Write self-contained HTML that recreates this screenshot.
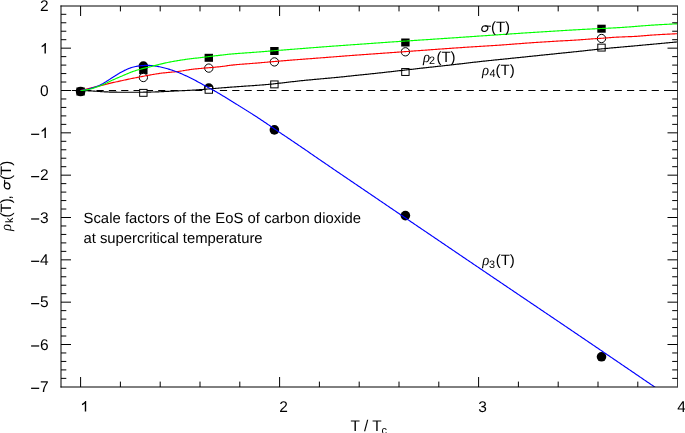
<!DOCTYPE html><html><head><meta charset="utf-8"><style>html,body{margin:0;padding:0;background:#fff}svg{display:block;text-rendering:geometricPrecision;will-change:transform}.s{font-family:"Liberation Sans",sans-serif}.g{font-family:"Liberation Serif",serif;font-style:italic}</style></head><body>
<svg width="685" height="433" viewBox="0 0 685 433">
<rect width="685" height="433" fill="#fff"/>
<defs><clipPath id="c"><rect x="61.0" y="6.0" width="616.5" height="381.0"/></clipPath></defs>
<line x1="61.0" y1="90.5" x2="677.5" y2="90.5" stroke="#000" stroke-width="1.1" stroke-dasharray="7.2 5.137" stroke-dashoffset="1.51"/>
<circle cx="80.60" cy="91.50" r="4.8" fill="#000"/>
<circle cx="143.35" cy="66.10" r="4.8" fill="#000"/>
<circle cx="208.80" cy="88.10" r="4.8" fill="#000"/>
<circle cx="274.40" cy="129.90" r="4.8" fill="#000"/>
<circle cx="405.40" cy="215.60" r="4.8" fill="#000"/>
<circle cx="601.50" cy="356.80" r="4.8" fill="#000"/>
<rect x="76.40" y="87.50" width="8.4" height="8.0" fill="#000"/>
<rect x="139.15" y="66.20" width="8.4" height="8.0" fill="#000"/>
<rect x="204.60" y="53.80" width="8.4" height="8.0" fill="#000"/>
<rect x="270.20" y="47.00" width="8.4" height="8.0" fill="#000"/>
<rect x="401.20" y="38.50" width="8.4" height="8.0" fill="#000"/>
<rect x="597.30" y="24.70" width="8.4" height="8.0" fill="#000"/>
<circle cx="143.35" cy="77.50" r="4.15" fill="#fff" stroke="#000" stroke-width="1"/>
<circle cx="208.80" cy="68.10" r="4.15" fill="#fff" stroke="#000" stroke-width="1"/>
<circle cx="274.40" cy="61.90" r="4.15" fill="#fff" stroke="#000" stroke-width="1"/>
<circle cx="405.40" cy="51.80" r="4.15" fill="#fff" stroke="#000" stroke-width="1"/>
<circle cx="601.50" cy="38.50" r="4.15" fill="#fff" stroke="#000" stroke-width="1"/>
<rect x="139.65" y="89.40" width="7.4" height="6.9" fill="#fff" stroke="#000" stroke-width="1"/>
<rect x="205.10" y="86.35" width="7.4" height="6.9" fill="#fff" stroke="#000" stroke-width="1"/>
<rect x="270.70" y="80.95" width="7.4" height="6.9" fill="#fff" stroke="#000" stroke-width="1"/>
<rect x="401.70" y="68.55" width="7.4" height="6.9" fill="#fff" stroke="#000" stroke-width="1"/>
<rect x="597.80" y="44.15" width="7.4" height="6.9" fill="#fff" stroke="#000" stroke-width="1"/>
<g clip-path="url(#c)" fill="none" stroke-width="1.15" stroke-linejoin="round">
<path d="M80.60 90.45 L81.60 90.50 L82.60 90.54 L83.60 90.59 L84.60 90.64 L85.60 90.69 L86.60 90.74 L87.60 90.79 L88.60 90.84 L89.60 90.89 L90.60 90.94 L91.60 91.00 L92.60 91.05 L93.60 91.11 L94.60 91.17 L95.60 91.22 L96.60 91.29 L97.60 91.35 L98.60 91.41 L99.60 91.48 L100.60 91.56 L101.60 91.64 L102.60 91.71 L103.60 91.77 L104.60 91.81 L105.60 91.86 L106.60 91.90 L107.60 91.93 L108.60 92.00 L109.60 92.08 L110.60 92.10 L111.60 92.11 L112.60 92.13 L113.60 92.15 L114.60 92.16 L115.60 92.18 L116.60 92.19 L117.60 92.20 L118.60 92.21 L119.60 92.23 L120.60 92.23 L121.60 92.23 L122.60 92.24 L123.60 92.24 L124.60 92.25 L125.60 92.25 L126.60 92.25 L127.60 92.25 L128.60 92.25 L129.60 92.25 L130.60 92.25 L131.60 92.24 L132.60 92.24 L133.60 92.24 L134.60 92.24 L135.60 92.24 L136.60 92.24 L137.60 92.24 L138.60 92.24 L139.60 92.24 L140.60 92.23 L141.60 92.22 L142.60 92.20 L143.60 92.19 L144.60 92.17 L145.60 92.16 L146.60 92.15 L147.60 92.13 L148.60 92.11 L149.60 92.09 L150.60 92.06 L151.60 92.04 L152.60 92.01 L153.60 91.98 L154.60 91.96 L155.60 91.93 L156.60 91.90 L157.60 91.85 L158.60 91.82 L159.60 91.77 L160.60 91.73 L161.60 91.67 L162.60 91.62 L163.60 91.57 L164.60 91.52 L165.60 91.47 L166.60 91.42 L167.60 91.37 L168.60 91.31 L169.60 91.26 L170.60 91.21 L171.60 91.16 L172.60 91.12 L173.60 91.07 L174.60 91.03 L175.60 90.98 L176.60 90.94 L177.60 90.89 L178.60 90.85 L179.60 90.80 L180.60 90.76 L181.60 90.71 L182.60 90.67 L183.60 90.62 L184.60 90.57 L185.60 90.53 L186.60 90.48 L187.60 90.44 L188.60 90.39 L189.60 90.34 L190.60 90.29 L191.60 90.23 L192.60 90.17 L193.60 90.12 L194.60 90.06 L195.60 89.99 L196.60 89.92 L197.60 89.84 L198.60 89.76 L199.60 89.68 L200.60 89.61 L201.60 89.54 L202.60 89.46 L203.60 89.37 L204.60 89.28 L205.60 89.20 L206.60 89.12 L207.60 89.03 L208.60 88.95 L209.60 88.86 L210.60 88.78 L211.60 88.70 L212.60 88.63 L213.60 88.55 L214.60 88.47 L215.60 88.38 L216.60 88.29 L217.60 88.21 L218.60 88.13 L219.60 88.05 L220.60 87.96 L221.60 87.88 L222.60 87.80 L223.60 87.72 L224.60 87.64 L225.60 87.56 L226.60 87.48 L227.60 87.40 L228.60 87.32 L229.60 87.24 L230.60 87.17 L231.60 87.09 L232.60 87.02 L233.60 86.95 L234.60 86.88 L235.60 86.81 L236.60 86.74 L237.60 86.67 L238.60 86.60 L239.60 86.53 L240.60 86.47 L241.60 86.40 L242.60 86.33 L243.60 86.26 L244.60 86.19 L245.60 86.11 L246.60 86.05 L247.60 85.98 L248.60 85.91 L249.60 85.85 L250.60 85.78 L251.60 85.71 L252.60 85.63 L253.60 85.56 L254.60 85.49 L255.60 85.42 L256.60 85.35 L257.60 85.27 L258.60 85.20 L259.60 85.12 L260.60 85.05 L261.60 84.97 L262.60 84.89 L263.60 84.81 L264.60 84.72 L265.60 84.63 L266.60 84.54 L267.60 84.45 L268.60 84.36 L269.60 84.27 L270.60 84.17 L271.60 84.07 L272.60 83.96 L273.60 83.85 L274.60 83.74 L275.60 83.63 L276.60 83.52 L277.60 83.41 L278.60 83.29 L279.60 83.18 L280.60 83.07 L281.60 82.95 L282.60 82.83 L283.60 82.72 L284.60 82.60 L285.60 82.48 L286.60 82.36 L287.60 82.25 L288.60 82.13 L289.60 82.01 L290.60 81.89 L291.60 81.78 L292.60 81.67 L293.60 81.56 L294.60 81.45 L295.60 81.34 L296.60 81.23 L297.60 81.13 L298.60 81.02 L299.60 80.91 L300.60 80.80 L301.60 80.69 L302.60 80.58 L303.60 80.48 L304.60 80.39 L305.60 80.29 L306.60 80.19 L307.60 80.10 L308.60 80.00 L309.60 79.90 L310.60 79.81 L311.60 79.72 L312.60 79.62 L313.60 79.53 L314.60 79.44 L315.60 79.35 L316.60 79.26 L317.60 79.17 L318.60 79.08 L319.60 78.99 L320.60 78.90 L321.60 78.80 L322.60 78.71 L323.60 78.62 L324.60 78.52 L325.60 78.44 L326.60 78.35 L327.60 78.26 L328.60 78.18 L329.60 78.09 L330.60 77.99 L331.60 77.90 L332.60 77.80 L333.60 77.70 L334.60 77.61 L335.60 77.52 L336.60 77.43 L337.60 77.33 L338.60 77.23 L339.60 77.12 L340.60 77.02 L341.60 76.91 L342.60 76.81 L343.60 76.71 L344.60 76.60 L345.60 76.49 L346.60 76.39 L347.60 76.29 L348.60 76.19 L349.60 76.08 L350.60 75.98 L351.60 75.87 L352.60 75.76 L353.60 75.65 L354.60 75.55 L355.60 75.44 L356.60 75.34 L357.60 75.24 L358.60 75.14 L359.60 75.04 L360.60 74.93 L361.60 74.82 L362.60 74.71 L363.60 74.61 L364.60 74.51 L365.60 74.41 L366.60 74.31 L367.60 74.21 L368.60 74.11 L369.60 74.00 L370.60 73.90 L371.60 73.79 L372.60 73.68 L373.60 73.58 L374.60 73.47 L375.60 73.36 L376.60 73.25 L377.60 73.14 L378.60 73.03 L379.60 72.92 L380.60 72.81 L381.60 72.70 L382.60 72.59 L383.60 72.48 L384.60 72.37 L385.60 72.26 L386.60 72.16 L387.60 72.05 L388.60 71.94 L389.60 71.83 L390.60 71.71 L391.60 71.60 L392.60 71.48 L393.60 71.37 L394.60 71.25 L395.60 71.14 L396.60 71.02 L397.60 70.91 L398.60 70.80 L399.60 70.69 L400.60 70.58 L401.60 70.46 L402.60 70.35 L403.60 70.23 L404.60 70.12 L405.60 70.00 L406.60 69.89 L407.60 69.77 L408.60 69.65 L409.60 69.54 L410.60 69.43 L411.60 69.31 L412.60 69.20 L413.60 69.09 L414.60 68.98 L415.60 68.87 L416.60 68.75 L417.60 68.64 L418.60 68.52 L419.60 68.41 L420.60 68.29 L421.60 68.17 L422.60 68.06 L423.60 67.94 L424.60 67.83 L425.60 67.73 L426.60 67.62 L427.60 67.52 L428.60 67.41 L429.60 67.30 L430.60 67.19 L431.60 67.08 L432.60 66.97 L433.60 66.86 L434.60 66.74 L435.60 66.63 L436.60 66.52 L437.60 66.41 L438.60 66.30 L439.60 66.18 L440.60 66.07 L441.60 65.96 L442.60 65.85 L443.60 65.75 L444.60 65.64 L445.60 65.53 L446.60 65.43 L447.60 65.32 L448.60 65.22 L449.60 65.10 L450.60 64.98 L451.60 64.87 L452.60 64.75 L453.60 64.63 L454.60 64.52 L455.60 64.40 L456.60 64.28 L457.60 64.17 L458.60 64.06 L459.60 63.94 L460.60 63.83 L461.60 63.71 L462.60 63.59 L463.60 63.47 L464.60 63.35 L465.60 63.23 L466.60 63.11 L467.60 62.99 L468.60 62.87 L469.60 62.76 L470.60 62.64 L471.60 62.53 L472.60 62.41 L473.60 62.30 L474.60 62.19 L475.60 62.08 L476.60 61.96 L477.60 61.85 L478.60 61.73 L479.60 61.62 L480.60 61.51 L481.60 61.40 L482.60 61.28 L483.60 61.17 L484.60 61.07 L485.60 60.96 L486.60 60.86 L487.60 60.76 L488.60 60.65 L489.60 60.55 L490.60 60.45 L491.60 60.34 L492.60 60.24 L493.60 60.13 L494.60 60.03 L495.60 59.92 L496.60 59.82 L497.60 59.72 L498.60 59.61 L499.60 59.51 L500.60 59.41 L501.60 59.31 L502.60 59.20 L503.60 59.10 L504.60 59.00 L505.60 58.90 L506.60 58.81 L507.60 58.71 L508.60 58.62 L509.60 58.51 L510.60 58.40 L511.60 58.30 L512.60 58.19 L513.60 58.09 L514.60 57.98 L515.60 57.87 L516.60 57.77 L517.60 57.67 L518.60 57.57 L519.60 57.47 L520.60 57.37 L521.60 57.26 L522.60 57.16 L523.60 57.06 L524.60 56.95 L525.60 56.85 L526.60 56.74 L527.60 56.63 L528.60 56.53 L529.60 56.43 L530.60 56.32 L531.60 56.22 L532.60 56.12 L533.60 56.02 L534.60 55.92 L535.60 55.81 L536.60 55.71 L537.60 55.60 L538.60 55.50 L539.60 55.39 L540.60 55.29 L541.60 55.18 L542.60 55.08 L543.60 54.97 L544.60 54.87 L545.60 54.77 L546.60 54.67 L547.60 54.57 L548.60 54.47 L549.60 54.37 L550.60 54.27 L551.60 54.16 L552.60 54.06 L553.60 53.96 L554.60 53.85 L555.60 53.75 L556.60 53.65 L557.60 53.54 L558.60 53.44 L559.60 53.34 L560.60 53.23 L561.60 53.13 L562.60 53.03 L563.60 52.93 L564.60 52.83 L565.60 52.73 L566.60 52.63 L567.60 52.53 L568.60 52.43 L569.60 52.33 L570.60 52.22 L571.60 52.12 L572.60 52.01 L573.60 51.90 L574.60 51.80 L575.60 51.70 L576.60 51.59 L577.60 51.49 L578.60 51.39 L579.60 51.28 L580.60 51.17 L581.60 51.07 L582.60 50.96 L583.60 50.84 L584.60 50.73 L585.60 50.62 L586.60 50.50 L587.60 50.39 L588.60 50.28 L589.60 50.17 L590.60 50.07 L591.60 49.96 L592.60 49.85 L593.60 49.74 L594.60 49.63 L595.60 49.52 L596.60 49.42 L597.60 49.31 L598.60 49.20 L599.60 49.09 L600.60 48.99 L601.60 48.89 L602.60 48.79 L603.60 48.70 L604.60 48.60 L605.60 48.51 L606.60 48.41 L607.60 48.32 L608.60 48.23 L609.60 48.14 L610.60 48.04 L611.60 47.94 L612.60 47.85 L613.60 47.75 L614.60 47.67 L615.60 47.58 L616.60 47.49 L617.60 47.40 L618.60 47.31 L619.60 47.22 L620.60 47.13 L621.60 47.04 L622.60 46.95 L623.60 46.86 L624.60 46.77 L625.60 46.68 L626.60 46.60 L627.60 46.51 L628.60 46.42 L629.60 46.33 L630.60 46.24 L631.60 46.15 L632.60 46.06 L633.60 45.97 L634.60 45.88 L635.60 45.79 L636.60 45.70 L637.60 45.61 L638.60 45.51 L639.60 45.42 L640.60 45.33 L641.60 45.24 L642.60 45.15 L643.60 45.05 L644.60 44.96 L645.60 44.87 L646.60 44.78 L647.60 44.69 L648.60 44.59 L649.60 44.50 L650.60 44.41 L651.60 44.32 L652.60 44.22 L653.60 44.13 L654.60 44.04 L655.60 43.95 L656.60 43.85 L657.60 43.76 L658.60 43.67 L659.60 43.57 L660.60 43.48 L661.60 43.39 L662.60 43.29 L663.60 43.20 L664.60 43.10 L665.60 43.01 L666.60 42.92 L667.60 42.82 L668.60 42.73 L669.60 42.63 L670.60 42.54 L671.60 42.45 L672.60 42.35 L673.60 42.26 L674.60 42.16 L675.60 42.07 L676.60 41.97 L677.50 41.89" stroke="#000000"/>
<path d="M80.60 90.51 L81.60 90.27 L82.60 90.02 L83.60 89.78 L84.60 89.54 L85.60 89.30 L86.60 89.05 L87.60 88.81 L88.60 88.56 L89.60 88.32 L90.60 88.07 L91.60 87.83 L92.60 87.58 L93.60 87.33 L94.60 87.08 L95.60 86.85 L96.60 86.62 L97.60 86.36 L98.60 86.13 L99.60 85.90 L100.60 85.66 L101.60 85.43 L102.60 85.21 L103.60 84.95 L104.60 84.68 L105.60 84.45 L106.60 84.19 L107.60 83.93 L108.60 83.67 L109.60 83.41 L110.60 83.15 L111.60 82.88 L112.60 82.63 L113.60 82.41 L114.60 82.19 L115.60 81.96 L116.60 81.76 L117.60 81.57 L118.60 81.35 L119.60 81.13 L120.60 80.93 L121.60 80.71 L122.60 80.49 L123.60 80.27 L124.60 80.04 L125.60 79.82 L126.60 79.60 L127.60 79.38 L128.60 79.16 L129.60 78.94 L130.60 78.73 L131.60 78.54 L132.60 78.35 L133.60 78.16 L134.60 77.97 L135.60 77.78 L136.60 77.58 L137.60 77.38 L138.60 77.20 L139.60 77.00 L140.60 76.80 L141.60 76.59 L142.60 76.40 L143.60 76.20 L144.60 76.01 L145.60 75.81 L146.60 75.62 L147.60 75.43 L148.60 75.26 L149.60 75.08 L150.60 74.89 L151.60 74.71 L152.60 74.55 L153.60 74.39 L154.60 74.22 L155.60 74.05 L156.60 73.90 L157.60 73.75 L158.60 73.58 L159.60 73.43 L160.60 73.29 L161.60 73.17 L162.60 73.04 L163.60 72.93 L164.60 72.83 L165.60 72.72 L166.60 72.63 L167.60 72.52 L168.60 72.41 L169.60 72.32 L170.60 72.23 L171.60 72.14 L172.60 72.05 L173.60 71.97 L174.60 71.85 L175.60 71.72 L176.60 71.64 L177.60 71.54 L178.60 71.42 L179.60 71.26 L180.60 71.09 L181.60 70.95 L182.60 70.80 L183.60 70.62 L184.60 70.46 L185.60 70.30 L186.60 70.13 L187.60 69.95 L188.60 69.81 L189.60 69.67 L190.60 69.53 L191.60 69.39 L192.60 69.26 L193.60 69.14 L194.60 69.03 L195.60 68.93 L196.60 68.82 L197.60 68.72 L198.60 68.63 L199.60 68.55 L200.60 68.45 L201.60 68.36 L202.60 68.28 L203.60 68.19 L204.60 68.10 L205.60 68.02 L206.60 67.93 L207.60 67.85 L208.60 67.77 L209.60 67.68 L210.60 67.60 L211.60 67.51 L212.60 67.42 L213.60 67.33 L214.60 67.24 L215.60 67.14 L216.60 67.04 L217.60 66.93 L218.60 66.82 L219.60 66.71 L220.60 66.60 L221.60 66.48 L222.60 66.35 L223.60 66.22 L224.60 66.10 L225.60 65.95 L226.60 65.82 L227.60 65.69 L228.60 65.55 L229.60 65.41 L230.60 65.29 L231.60 65.18 L232.60 65.07 L233.60 64.94 L234.60 64.82 L235.60 64.73 L236.60 64.64 L237.60 64.55 L238.60 64.47 L239.60 64.39 L240.60 64.29 L241.60 64.21 L242.60 64.14 L243.60 64.07 L244.60 63.99 L245.60 63.91 L246.60 63.84 L247.60 63.77 L248.60 63.71 L249.60 63.62 L250.60 63.54 L251.60 63.45 L252.60 63.37 L253.60 63.30 L254.60 63.23 L255.60 63.16 L256.60 63.07 L257.60 62.98 L258.60 62.89 L259.60 62.81 L260.60 62.72 L261.60 62.64 L262.60 62.55 L263.60 62.46 L264.60 62.38 L265.60 62.29 L266.60 62.21 L267.60 62.12 L268.60 62.02 L269.60 61.92 L270.60 61.83 L271.60 61.75 L272.60 61.66 L273.60 61.58 L274.60 61.49 L275.60 61.40 L276.60 61.32 L277.60 61.23 L278.60 61.15 L279.60 61.06 L280.60 60.97 L281.60 60.89 L282.60 60.81 L283.60 60.73 L284.60 60.65 L285.60 60.56 L286.60 60.48 L287.60 60.40 L288.60 60.32 L289.60 60.24 L290.60 60.16 L291.60 60.09 L292.60 60.01 L293.60 59.93 L294.60 59.86 L295.60 59.78 L296.60 59.70 L297.60 59.63 L298.60 59.55 L299.60 59.48 L300.60 59.40 L301.60 59.32 L302.60 59.25 L303.60 59.17 L304.60 59.09 L305.60 59.02 L306.60 58.94 L307.60 58.86 L308.60 58.79 L309.60 58.71 L310.60 58.63 L311.60 58.56 L312.60 58.48 L313.60 58.40 L314.60 58.33 L315.60 58.25 L316.60 58.18 L317.60 58.11 L318.60 58.03 L319.60 57.95 L320.60 57.87 L321.60 57.80 L322.60 57.72 L323.60 57.64 L324.60 57.56 L325.60 57.48 L326.60 57.41 L327.60 57.33 L328.60 57.26 L329.60 57.18 L330.60 57.11 L331.60 57.03 L332.60 56.95 L333.60 56.87 L334.60 56.79 L335.60 56.71 L336.60 56.63 L337.60 56.55 L338.60 56.47 L339.60 56.40 L340.60 56.32 L341.60 56.24 L342.60 56.16 L343.60 56.08 L344.60 56.00 L345.60 55.93 L346.60 55.85 L347.60 55.78 L348.60 55.70 L349.60 55.62 L350.60 55.55 L351.60 55.48 L352.60 55.40 L353.60 55.32 L354.60 55.25 L355.60 55.17 L356.60 55.10 L357.60 55.02 L358.60 54.95 L359.60 54.88 L360.60 54.81 L361.60 54.74 L362.60 54.66 L363.60 54.59 L364.60 54.52 L365.60 54.45 L366.60 54.38 L367.60 54.31 L368.60 54.24 L369.60 54.17 L370.60 54.10 L371.60 54.03 L372.60 53.96 L373.60 53.89 L374.60 53.81 L375.60 53.74 L376.60 53.67 L377.60 53.60 L378.60 53.53 L379.60 53.46 L380.60 53.39 L381.60 53.32 L382.60 53.25 L383.60 53.18 L384.60 53.11 L385.60 53.04 L386.60 52.97 L387.60 52.90 L388.60 52.83 L389.60 52.75 L390.60 52.68 L391.60 52.61 L392.60 52.53 L393.60 52.46 L394.60 52.39 L395.60 52.32 L396.60 52.24 L397.60 52.17 L398.60 52.10 L399.60 52.03 L400.60 51.96 L401.60 51.88 L402.60 51.81 L403.60 51.74 L404.60 51.67 L405.60 51.59 L406.60 51.52 L407.60 51.45 L408.60 51.38 L409.60 51.30 L410.60 51.23 L411.60 51.16 L412.60 51.09 L413.60 51.01 L414.60 50.94 L415.60 50.87 L416.60 50.79 L417.60 50.72 L418.60 50.65 L419.60 50.57 L420.60 50.50 L421.60 50.43 L422.60 50.35 L423.60 50.28 L424.60 50.21 L425.60 50.13 L426.60 50.06 L427.60 49.98 L428.60 49.91 L429.60 49.84 L430.60 49.76 L431.60 49.69 L432.60 49.62 L433.60 49.54 L434.60 49.47 L435.60 49.40 L436.60 49.33 L437.60 49.25 L438.60 49.18 L439.60 49.11 L440.60 49.03 L441.60 48.96 L442.60 48.89 L443.60 48.82 L444.60 48.75 L445.60 48.68 L446.60 48.61 L447.60 48.54 L448.60 48.47 L449.60 48.40 L450.60 48.33 L451.60 48.26 L452.60 48.19 L453.60 48.12 L454.60 48.05 L455.60 47.98 L456.60 47.91 L457.60 47.84 L458.60 47.77 L459.60 47.70 L460.60 47.63 L461.60 47.57 L462.60 47.50 L463.60 47.44 L464.60 47.37 L465.60 47.30 L466.60 47.23 L467.60 47.17 L468.60 47.11 L469.60 47.04 L470.60 46.97 L471.60 46.91 L472.60 46.84 L473.60 46.78 L474.60 46.71 L475.60 46.65 L476.60 46.59 L477.60 46.53 L478.60 46.47 L479.60 46.41 L480.60 46.35 L481.60 46.28 L482.60 46.22 L483.60 46.16 L484.60 46.09 L485.60 46.03 L486.60 45.97 L487.60 45.91 L488.60 45.84 L489.60 45.78 L490.60 45.72 L491.60 45.65 L492.60 45.59 L493.60 45.53 L494.60 45.46 L495.60 45.40 L496.60 45.33 L497.60 45.27 L498.60 45.20 L499.60 45.13 L500.60 45.06 L501.60 44.99 L502.60 44.92 L503.60 44.85 L504.60 44.77 L505.60 44.70 L506.60 44.62 L507.60 44.55 L508.60 44.48 L509.60 44.40 L510.60 44.32 L511.60 44.25 L512.60 44.17 L513.60 44.09 L514.60 44.02 L515.60 43.94 L516.60 43.86 L517.60 43.78 L518.60 43.71 L519.60 43.63 L520.60 43.56 L521.60 43.48 L522.60 43.41 L523.60 43.34 L524.60 43.26 L525.60 43.19 L526.60 43.12 L527.60 43.04 L528.60 42.97 L529.60 42.90 L530.60 42.83 L531.60 42.76 L532.60 42.69 L533.60 42.62 L534.60 42.55 L535.60 42.48 L536.60 42.42 L537.60 42.35 L538.60 42.29 L539.60 42.22 L540.60 42.16 L541.60 42.10 L542.60 42.03 L543.60 41.97 L544.60 41.91 L545.60 41.85 L546.60 41.79 L547.60 41.73 L548.60 41.67 L549.60 41.61 L550.60 41.55 L551.60 41.48 L552.60 41.42 L553.60 41.35 L554.60 41.29 L555.60 41.23 L556.60 41.17 L557.60 41.11 L558.60 41.05 L559.60 40.99 L560.60 40.94 L561.60 40.88 L562.60 40.83 L563.60 40.77 L564.60 40.72 L565.60 40.66 L566.60 40.61 L567.60 40.56 L568.60 40.50 L569.60 40.45 L570.60 40.39 L571.60 40.33 L572.60 40.27 L573.60 40.21 L574.60 40.15 L575.60 40.09 L576.60 40.02 L577.60 39.96 L578.60 39.90 L579.60 39.83 L580.60 39.75 L581.60 39.68 L582.60 39.61 L583.60 39.53 L584.60 39.45 L585.60 39.36 L586.60 39.28 L587.60 39.20 L588.60 39.14 L589.60 39.06 L590.60 38.98 L591.60 38.91 L592.60 38.84 L593.60 38.77 L594.60 38.70 L595.60 38.64 L596.60 38.57 L597.60 38.51 L598.60 38.45 L599.60 38.39 L600.60 38.34 L601.60 38.27 L602.60 38.20 L603.60 38.11 L604.60 38.03 L605.60 37.96 L606.60 37.90 L607.60 37.83 L608.60 37.76 L609.60 37.69 L610.60 37.62 L611.60 37.53 L612.60 37.41 L613.60 37.35 L614.60 37.28 L615.60 37.23 L616.60 37.19 L617.60 37.14 L618.60 37.10 L619.60 37.05 L620.60 37.01 L621.60 36.97 L622.60 36.92 L623.60 36.86 L624.60 36.82 L625.60 36.79 L626.60 36.74 L627.60 36.70 L628.60 36.67 L629.60 36.64 L630.60 36.62 L631.60 36.57 L632.60 36.52 L633.60 36.47 L634.60 36.42 L635.60 36.38 L636.60 36.32 L637.60 36.25 L638.60 36.18 L639.60 36.09 L640.60 36.02 L641.60 35.93 L642.60 35.83 L643.60 35.75 L644.60 35.67 L645.60 35.59 L646.60 35.51 L647.60 35.43 L648.60 35.33 L649.60 35.25 L650.60 35.18 L651.60 35.11 L652.60 35.05 L653.60 34.98 L654.60 34.92 L655.60 34.86 L656.60 34.79 L657.60 34.73 L658.60 34.67 L659.60 34.61 L660.60 34.55 L661.60 34.50 L662.60 34.44 L663.60 34.38 L664.60 34.33 L665.60 34.27 L666.60 34.22 L667.60 34.17 L668.60 34.11 L669.60 34.06 L670.60 34.01 L671.60 33.96 L672.60 33.91 L673.60 33.86 L674.60 33.81 L675.60 33.76 L676.60 33.71 L677.50 33.67" stroke="#ff0000"/>
<path d="M80.60 90.50 L81.60 90.37 L82.60 90.22 L83.60 90.06 L84.60 89.88 L85.60 89.69 L86.60 89.47 L87.60 89.25 L88.60 89.00 L89.60 88.74 L90.60 88.46 L91.60 88.16 L92.60 87.85 L93.60 87.53 L94.60 87.19 L95.60 86.84 L96.60 86.46 L97.60 86.09 L98.60 85.68 L99.60 85.23 L100.60 84.73 L101.60 84.23 L102.60 83.72 L103.60 83.13 L104.60 82.53 L105.60 81.94 L106.60 81.31 L107.60 80.69 L108.60 80.06 L109.60 79.39 L110.60 78.72 L111.60 78.10 L112.60 77.46 L113.60 76.81 L114.60 76.18 L115.60 75.54 L116.60 74.91 L117.60 74.29 L118.60 73.69 L119.60 73.11 L120.60 72.53 L121.60 71.98 L122.60 71.43 L123.60 70.90 L124.60 70.38 L125.60 69.91 L126.60 69.45 L127.60 69.00 L128.60 68.59 L129.60 68.22 L130.60 67.87 L131.60 67.55 L132.60 67.26 L133.60 67.00 L134.60 66.76 L135.60 66.55 L136.60 66.36 L137.60 66.19 L138.60 66.03 L139.60 65.88 L140.60 65.76 L141.60 65.65 L142.60 65.56 L143.60 65.48 L144.60 65.42 L145.60 65.38 L146.60 65.37 L147.60 65.37 L148.60 65.39 L149.60 65.43 L150.60 65.48 L151.60 65.55 L152.60 65.66 L153.60 65.78 L154.60 65.91 L155.60 66.07 L156.60 66.22 L157.60 66.39 L158.60 66.60 L159.60 66.80 L160.60 67.01 L161.60 67.23 L162.60 67.48 L163.60 67.72 L164.60 67.97 L165.60 68.23 L166.60 68.51 L167.60 68.81 L168.60 69.10 L169.60 69.41 L170.60 69.73 L171.60 70.06 L172.60 70.39 L173.60 70.72 L174.60 71.07 L175.60 71.43 L176.60 71.81 L177.60 72.18 L178.60 72.58 L179.60 72.98 L180.60 73.39 L181.60 73.82 L182.60 74.25 L183.60 74.70 L184.60 75.15 L185.60 75.61 L186.60 76.07 L187.60 76.56 L188.60 77.04 L189.60 77.54 L190.60 78.03 L191.60 78.53 L192.60 79.03 L193.60 79.54 L194.60 80.08 L195.60 80.60 L196.60 81.13 L197.60 81.66 L198.60 82.20 L199.60 82.75 L200.60 83.31 L201.60 83.85 L202.60 84.39 L203.60 84.93 L204.60 85.49 L205.60 86.03 L206.60 86.58 L207.60 87.13 L208.60 87.68 L209.60 88.23 L210.60 88.78 L211.60 89.33 L212.60 89.89 L213.60 90.44 L214.60 91.00 L215.60 91.56 L216.60 92.12 L217.60 92.69 L218.60 93.27 L219.60 93.85 L220.60 94.44 L221.60 95.03 L222.60 95.64 L223.60 96.25 L224.60 96.85 L225.60 97.46 L226.60 98.08 L227.60 98.69 L228.60 99.31 L229.60 99.93 L230.60 100.55 L231.60 101.17 L232.60 101.79 L233.60 102.40 L234.60 103.03 L235.60 103.65 L236.60 104.26 L237.60 104.88 L238.60 105.50 L239.60 106.12 L240.60 106.75 L241.60 107.38 L242.60 108.00 L243.60 108.63 L244.60 109.25 L245.60 109.88 L246.60 110.50 L247.60 111.13 L248.60 111.75 L249.60 112.37 L250.60 112.99 L251.60 113.62 L252.60 114.25 L253.60 114.90 L254.60 115.54 L255.60 116.18 L256.60 116.83 L257.60 117.50 L258.60 118.17 L259.60 118.83 L260.60 119.50 L261.60 120.17 L262.60 120.84 L263.60 121.51 L264.60 122.18 L265.60 122.85 L266.60 123.52 L267.60 124.20 L268.60 124.87 L269.60 125.55 L270.60 126.22 L271.60 126.90 L272.60 127.58 L273.60 128.27 L274.60 128.95 L275.60 129.64 L276.60 130.33 L277.60 131.01 L278.60 131.71 L279.60 132.40 L280.60 133.09 L281.60 133.77 L282.60 134.41 L283.60 135.04 L284.60 135.70 L285.60 136.39 L286.60 137.08 L287.60 137.76 L288.60 138.43 L289.60 139.10 L290.60 139.77 L291.60 140.45 L292.60 141.13 L293.60 141.80 L294.60 142.48 L295.60 143.16 L296.60 143.83 L297.60 144.51 L298.60 145.19 L299.60 145.87 L300.60 146.55 L301.60 147.23 L302.60 147.90 L303.60 148.58 L304.60 149.26 L305.60 149.95 L306.60 150.63 L307.60 151.32 L308.60 152.02 L309.60 152.71 L310.60 153.42 L311.60 154.13 L312.60 154.83 L313.60 155.52 L314.60 156.21 L315.60 156.90 L316.60 157.58 L317.60 158.27 L318.60 158.95 L319.60 159.63 L320.60 160.31 L321.60 160.99 L322.60 161.67 L323.60 162.35 L324.60 163.03 L325.60 163.71 L326.60 164.39 L327.60 165.07 L328.60 165.75 L329.60 166.43 L330.60 167.11 L331.60 167.79 L332.60 168.47 L333.60 169.16 L334.60 169.86 L335.60 170.55 L336.60 171.23 L337.60 171.91 L338.60 172.59 L339.60 173.26 L340.60 173.94 L341.60 174.62 L342.60 175.29 L343.60 175.97 L344.60 176.65 L345.60 177.33 L346.60 178.00 L347.60 178.68 L348.60 179.36 L349.60 180.04 L350.60 180.72 L351.60 181.40 L352.60 182.08 L353.60 182.76 L354.60 183.43 L355.60 184.11 L356.60 184.79 L357.60 185.47 L358.60 186.15 L359.60 186.83 L360.60 187.51 L361.60 188.19 L362.60 188.87 L363.60 189.55 L364.60 190.23 L365.60 190.91 L366.60 191.59 L367.60 192.27 L368.60 192.95 L369.60 193.63 L370.60 194.31 L371.60 194.99 L372.60 195.67 L373.60 196.35 L374.60 197.03 L375.60 197.71 L376.60 198.39 L377.60 199.07 L378.60 199.75 L379.60 200.43 L380.60 201.11 L381.60 201.79 L382.60 202.47 L383.60 203.14 L384.60 203.82 L385.60 204.50 L386.60 205.18 L387.60 205.86 L388.60 206.54 L389.60 207.22 L390.60 207.90 L391.60 208.58 L392.60 209.25 L393.60 209.93 L394.60 210.61 L395.60 211.29 L396.60 211.97 L397.60 212.65 L398.60 213.33 L399.60 214.01 L400.60 214.69 L401.60 215.36 L402.60 216.04 L403.60 216.72 L404.60 217.40 L405.60 218.08 L406.60 218.76 L407.60 219.43 L408.60 220.11 L409.60 220.79 L410.60 221.47 L411.60 222.15 L412.60 222.83 L413.60 223.51 L414.60 224.18 L415.60 224.86 L416.60 225.54 L417.60 226.22 L418.60 226.90 L419.60 227.57 L420.60 228.25 L421.60 228.93 L422.60 229.61 L423.60 230.29 L424.60 230.96 L425.60 231.64 L426.60 232.32 L427.60 233.00 L428.60 233.68 L429.60 234.35 L430.60 235.03 L431.60 235.71 L432.60 236.39 L433.60 237.07 L434.60 237.74 L435.60 238.42 L436.60 239.10 L437.60 239.78 L438.60 240.45 L439.60 241.13 L440.60 241.81 L441.60 242.49 L442.60 243.16 L443.60 243.84 L444.60 244.52 L445.60 245.20 L446.60 245.88 L447.60 246.55 L448.60 247.23 L449.60 247.91 L450.60 248.59 L451.60 249.26 L452.60 249.94 L453.60 250.62 L454.60 251.30 L455.60 251.97 L456.60 252.65 L457.60 253.33 L458.60 254.01 L459.60 254.69 L460.60 255.36 L461.60 256.04 L462.60 256.72 L463.60 257.40 L464.60 258.07 L465.60 258.75 L466.60 259.43 L467.60 260.11 L468.60 260.79 L469.60 261.46 L470.60 262.14 L471.60 262.82 L472.60 263.50 L473.60 264.18 L474.60 264.86 L475.60 265.53 L476.60 266.21 L477.60 266.89 L478.60 267.57 L479.60 268.25 L480.60 268.92 L481.60 269.60 L482.60 270.28 L483.60 270.95 L484.60 271.63 L485.60 272.31 L486.60 272.99 L487.60 273.66 L488.60 274.34 L489.60 275.02 L490.60 275.69 L491.60 276.37 L492.60 277.05 L493.60 277.72 L494.60 278.40 L495.60 279.07 L496.60 279.75 L497.60 280.42 L498.60 281.10 L499.60 281.78 L500.60 282.45 L501.60 283.13 L502.60 283.81 L503.60 284.48 L504.60 285.16 L505.60 285.84 L506.60 286.51 L507.60 287.19 L508.60 287.86 L509.60 288.54 L510.60 289.22 L511.60 289.89 L512.60 290.57 L513.60 291.25 L514.60 291.92 L515.60 292.60 L516.60 293.27 L517.60 293.95 L518.60 294.62 L519.60 295.30 L520.60 295.97 L521.60 296.65 L522.60 297.32 L523.60 297.99 L524.60 298.67 L525.60 299.34 L526.60 300.02 L527.60 300.69 L528.60 301.37 L529.60 302.05 L530.60 302.72 L531.60 303.40 L532.60 304.07 L533.60 304.75 L534.60 305.43 L535.60 306.10 L536.60 306.78 L537.60 307.46 L538.60 308.13 L539.60 308.81 L540.60 309.49 L541.60 310.16 L542.60 310.84 L543.60 311.52 L544.60 312.19 L545.60 312.87 L546.60 313.54 L547.60 314.21 L548.60 314.89 L549.60 315.56 L550.60 316.24 L551.60 316.91 L552.60 317.59 L553.60 318.26 L554.60 318.94 L555.60 319.62 L556.60 320.29 L557.60 320.97 L558.60 321.64 L559.60 322.32 L560.60 323.00 L561.60 323.67 L562.60 324.35 L563.60 325.03 L564.60 325.71 L565.60 326.38 L566.60 327.06 L567.60 327.74 L568.60 328.42 L569.60 329.09 L570.60 329.77 L571.60 330.45 L572.60 331.13 L573.60 331.81 L574.60 332.48 L575.60 333.16 L576.60 333.84 L577.60 334.52 L578.60 335.20 L579.60 335.87 L580.60 336.55 L581.60 337.23 L582.60 337.91 L583.60 338.59 L584.60 339.27 L585.60 339.95 L586.60 340.63 L587.60 341.30 L588.60 341.98 L589.60 342.66 L590.60 343.34 L591.60 344.02 L592.60 344.70 L593.60 345.38 L594.60 346.06 L595.60 346.74 L596.60 347.42 L597.60 348.10 L598.60 348.78 L599.60 349.46 L600.60 350.14 L601.60 350.82 L602.60 351.50 L603.60 352.18 L604.60 352.86 L605.60 353.54 L606.60 354.22 L607.60 354.90 L608.60 355.58 L609.60 356.26 L610.60 356.94 L611.60 357.62 L612.60 358.30 L613.60 358.98 L614.60 359.66 L615.60 360.34 L616.60 361.02 L617.60 361.70 L618.60 362.38 L619.60 363.07 L620.60 363.75 L621.60 364.43 L622.60 365.11 L623.60 365.79 L624.60 366.47 L625.60 367.15 L626.60 367.83 L627.60 368.51 L628.60 369.20 L629.60 369.88 L630.60 370.56 L631.60 371.24 L632.60 371.92 L633.60 372.60 L634.60 373.29 L635.60 373.97 L636.60 374.65 L637.60 375.33 L638.60 376.01 L639.60 376.69 L640.60 377.38 L641.60 378.06 L642.60 378.74 L643.60 379.42 L644.60 380.11 L645.60 380.79 L646.60 381.47 L647.60 382.15 L648.60 382.84 L649.60 383.52 L650.60 384.20 L651.60 384.88 L652.60 385.57 L653.60 386.25 L654.60 386.93 L655.60 387.62 L656.60 388.30 L657.60 388.98 L658.60 389.66 L659.60 390.35 L660.60 391.03 L661.60 391.71 L662.60 392.40 L663.60 393.08 L664.60 393.76" stroke="#0000ff"/>
<path d="M80.60 90.51 L81.60 90.45 L82.60 90.38 L83.60 90.28 L84.60 90.16 L85.60 90.02 L86.60 89.86 L87.60 89.68 L88.60 89.48 L89.60 89.25 L90.60 89.00 L91.60 88.73 L92.60 88.42 L93.60 88.11 L94.60 87.78 L95.60 87.40 L96.60 87.05 L97.60 86.70 L98.60 86.34 L99.60 85.96 L100.60 85.57 L101.60 85.17 L102.60 84.76 L103.60 84.35 L104.60 83.91 L105.60 83.45 L106.60 83.00 L107.60 82.53 L108.60 82.04 L109.60 81.55 L110.60 81.06 L111.60 80.58 L112.60 80.09 L113.60 79.64 L114.60 79.20 L115.60 78.75 L116.60 78.31 L117.60 77.88 L118.60 77.45 L119.60 77.01 L120.60 76.59 L121.60 76.17 L122.60 75.73 L123.60 75.30 L124.60 74.88 L125.60 74.46 L126.60 74.04 L127.60 73.62 L128.60 73.20 L129.60 72.78 L130.60 72.37 L131.60 71.99 L132.60 71.63 L133.60 71.26 L134.60 70.92 L135.60 70.60 L136.60 70.29 L137.60 70.00 L138.60 69.71 L139.60 69.45 L140.60 69.19 L141.60 68.93 L142.60 68.68 L143.60 68.42 L144.60 68.17 L145.60 67.93 L146.60 67.68 L147.60 67.44 L148.60 67.18 L149.60 66.93 L150.60 66.69 L151.60 66.44 L152.60 66.17 L153.60 65.91 L154.60 65.64 L155.60 65.37 L156.60 65.11 L157.60 64.83 L158.60 64.57 L159.60 64.31 L160.60 64.07 L161.60 63.82 L162.60 63.57 L163.60 63.34 L164.60 63.12 L165.60 62.91 L166.60 62.70 L167.60 62.48 L168.60 62.28 L169.60 62.09 L170.60 61.91 L171.60 61.72 L172.60 61.54 L173.60 61.37 L174.60 61.19 L175.60 61.01 L176.60 60.85 L177.60 60.69 L178.60 60.52 L179.60 60.35 L180.60 60.19 L181.60 60.03 L182.60 59.87 L183.60 59.72 L184.60 59.58 L185.60 59.44 L186.60 59.30 L187.60 59.15 L188.60 59.02 L189.60 58.90 L190.60 58.77 L191.60 58.64 L192.60 58.52 L193.60 58.41 L194.60 58.29 L195.60 58.18 L196.60 58.08 L197.60 57.97 L198.60 57.87 L199.60 57.76 L200.60 57.65 L201.60 57.53 L202.60 57.42 L203.60 57.30 L204.60 57.18 L205.60 57.05 L206.60 56.92 L207.60 56.80 L208.60 56.67 L209.60 56.54 L210.60 56.42 L211.60 56.30 L212.60 56.17 L213.60 56.05 L214.60 55.93 L215.60 55.80 L216.60 55.68 L217.60 55.56 L218.60 55.44 L219.60 55.32 L220.60 55.19 L221.60 55.07 L222.60 54.96 L223.60 54.84 L224.60 54.73 L225.60 54.61 L226.60 54.50 L227.60 54.40 L228.60 54.29 L229.60 54.18 L230.60 54.08 L231.60 53.99 L232.60 53.90 L233.60 53.81 L234.60 53.72 L235.60 53.64 L236.60 53.57 L237.60 53.50 L238.60 53.43 L239.60 53.35 L240.60 53.28 L241.60 53.22 L242.60 53.15 L243.60 53.07 L244.60 53.00 L245.60 52.93 L246.60 52.86 L247.60 52.80 L248.60 52.74 L249.60 52.66 L250.60 52.58 L251.60 52.50 L252.60 52.42 L253.60 52.35 L254.60 52.29 L255.60 52.21 L256.60 52.13 L257.60 52.05 L258.60 51.97 L259.60 51.89 L260.60 51.82 L261.60 51.74 L262.60 51.66 L263.60 51.58 L264.60 51.50 L265.60 51.42 L266.60 51.34 L267.60 51.25 L268.60 51.17 L269.60 51.08 L270.60 51.00 L271.60 50.92 L272.60 50.84 L273.60 50.76 L274.60 50.68 L275.60 50.60 L276.60 50.52 L277.60 50.44 L278.60 50.37 L279.60 50.29 L280.60 50.21 L281.60 50.13 L282.60 50.06 L283.60 49.98 L284.60 49.91 L285.60 49.83 L286.60 49.75 L287.60 49.67 L288.60 49.59 L289.60 49.51 L290.60 49.44 L291.60 49.36 L292.60 49.28 L293.60 49.20 L294.60 49.12 L295.60 49.04 L296.60 48.96 L297.60 48.88 L298.60 48.80 L299.60 48.72 L300.60 48.65 L301.60 48.57 L302.60 48.49 L303.60 48.41 L304.60 48.33 L305.60 48.25 L306.60 48.17 L307.60 48.09 L308.60 48.01 L309.60 47.93 L310.60 47.86 L311.60 47.78 L312.60 47.70 L313.60 47.62 L314.60 47.54 L315.60 47.47 L316.60 47.39 L317.60 47.31 L318.60 47.23 L319.60 47.16 L320.60 47.08 L321.60 47.00 L322.60 46.92 L323.60 46.85 L324.60 46.77 L325.60 46.70 L326.60 46.62 L327.60 46.55 L328.60 46.47 L329.60 46.40 L330.60 46.32 L331.60 46.25 L332.60 46.18 L333.60 46.11 L334.60 46.04 L335.60 45.97 L336.60 45.90 L337.60 45.82 L338.60 45.75 L339.60 45.68 L340.60 45.60 L341.60 45.53 L342.60 45.46 L343.60 45.39 L344.60 45.31 L345.60 45.24 L346.60 45.17 L347.60 45.09 L348.60 45.02 L349.60 44.95 L350.60 44.87 L351.60 44.80 L352.60 44.73 L353.60 44.66 L354.60 44.59 L355.60 44.52 L356.60 44.45 L357.60 44.38 L358.60 44.31 L359.60 44.23 L360.60 44.16 L361.60 44.09 L362.60 44.02 L363.60 43.95 L364.60 43.88 L365.60 43.81 L366.60 43.74 L367.60 43.67 L368.60 43.60 L369.60 43.53 L370.60 43.46 L371.60 43.39 L372.60 43.32 L373.60 43.25 L374.60 43.18 L375.60 43.10 L376.60 43.03 L377.60 42.96 L378.60 42.89 L379.60 42.82 L380.60 42.75 L381.60 42.68 L382.60 42.61 L383.60 42.54 L384.60 42.47 L385.60 42.40 L386.60 42.32 L387.60 42.25 L388.60 42.18 L389.60 42.11 L390.60 42.04 L391.60 41.97 L392.60 41.90 L393.60 41.84 L394.60 41.77 L395.60 41.70 L396.60 41.63 L397.60 41.56 L398.60 41.49 L399.60 41.43 L400.60 41.36 L401.60 41.29 L402.60 41.22 L403.60 41.16 L404.60 41.09 L405.60 41.03 L406.60 40.96 L407.60 40.90 L408.60 40.83 L409.60 40.77 L410.60 40.70 L411.60 40.64 L412.60 40.58 L413.60 40.51 L414.60 40.44 L415.60 40.38 L416.60 40.32 L417.60 40.25 L418.60 40.18 L419.60 40.12 L420.60 40.05 L421.60 39.99 L422.60 39.92 L423.60 39.85 L424.60 39.79 L425.60 39.72 L426.60 39.65 L427.60 39.59 L428.60 39.52 L429.60 39.45 L430.60 39.38 L431.60 39.32 L432.60 39.25 L433.60 39.18 L434.60 39.11 L435.60 39.04 L436.60 38.97 L437.60 38.90 L438.60 38.84 L439.60 38.77 L440.60 38.70 L441.60 38.64 L442.60 38.57 L443.60 38.50 L444.60 38.44 L445.60 38.37 L446.60 38.31 L447.60 38.24 L448.60 38.17 L449.60 38.10 L450.60 38.04 L451.60 37.97 L452.60 37.90 L453.60 37.83 L454.60 37.77 L455.60 37.70 L456.60 37.63 L457.60 37.56 L458.60 37.49 L459.60 37.43 L460.60 37.36 L461.60 37.29 L462.60 37.22 L463.60 37.15 L464.60 37.08 L465.60 37.01 L466.60 36.94 L467.60 36.88 L468.60 36.81 L469.60 36.74 L470.60 36.67 L471.60 36.60 L472.60 36.53 L473.60 36.46 L474.60 36.39 L475.60 36.32 L476.60 36.26 L477.60 36.19 L478.60 36.12 L479.60 36.05 L480.60 35.98 L481.60 35.91 L482.60 35.84 L483.60 35.77 L484.60 35.71 L485.60 35.64 L486.60 35.57 L487.60 35.51 L488.60 35.44 L489.60 35.37 L490.60 35.30 L491.60 35.23 L492.60 35.17 L493.60 35.10 L494.60 35.03 L495.60 34.96 L496.60 34.89 L497.60 34.82 L498.60 34.75 L499.60 34.69 L500.60 34.62 L501.60 34.55 L502.60 34.48 L503.60 34.41 L504.60 34.34 L505.60 34.27 L506.60 34.20 L507.60 34.13 L508.60 34.06 L509.60 33.99 L510.60 33.92 L511.60 33.86 L512.60 33.79 L513.60 33.72 L514.60 33.66 L515.60 33.59 L516.60 33.52 L517.60 33.45 L518.60 33.38 L519.60 33.32 L520.60 33.25 L521.60 33.18 L522.60 33.11 L523.60 33.05 L524.60 32.99 L525.60 32.92 L526.60 32.86 L527.60 32.80 L528.60 32.74 L529.60 32.67 L530.60 32.61 L531.60 32.55 L532.60 32.49 L533.60 32.42 L534.60 32.36 L535.60 32.30 L536.60 32.24 L537.60 32.17 L538.60 32.11 L539.60 32.04 L540.60 31.98 L541.60 31.92 L542.60 31.86 L543.60 31.80 L544.60 31.73 L545.60 31.67 L546.60 31.61 L547.60 31.55 L548.60 31.49 L549.60 31.42 L550.60 31.36 L551.60 31.29 L552.60 31.23 L553.60 31.16 L554.60 31.10 L555.60 31.04 L556.60 30.97 L557.60 30.91 L558.60 30.85 L559.60 30.79 L560.60 30.73 L561.60 30.66 L562.60 30.60 L563.60 30.54 L564.60 30.48 L565.60 30.41 L566.60 30.35 L567.60 30.29 L568.60 30.23 L569.60 30.17 L570.60 30.12 L571.60 30.06 L572.60 30.00 L573.60 29.94 L574.60 29.89 L575.60 29.83 L576.60 29.77 L577.60 29.71 L578.60 29.65 L579.60 29.60 L580.60 29.54 L581.60 29.48 L582.60 29.44 L583.60 29.39 L584.60 29.33 L585.60 29.28 L586.60 29.22 L587.60 29.17 L588.60 29.12 L589.60 29.07 L590.60 29.02 L591.60 28.97 L592.60 28.93 L593.60 28.88 L594.60 28.83 L595.60 28.78 L596.60 28.73 L597.60 28.68 L598.60 28.63 L599.60 28.58 L600.60 28.53 L601.60 28.49 L602.60 28.44 L603.60 28.40 L604.60 28.35 L605.60 28.31 L606.60 28.27 L607.60 28.22 L608.60 28.17 L609.60 28.12 L610.60 28.07 L611.60 28.02 L612.60 27.98 L613.60 27.94 L614.60 27.88 L615.60 27.82 L616.60 27.76 L617.60 27.69 L618.60 27.64 L619.60 27.58 L620.60 27.52 L621.60 27.46 L622.60 27.39 L623.60 27.32 L624.60 27.26 L625.60 27.19 L626.60 27.12 L627.60 27.04 L628.60 26.97 L629.60 26.89 L630.60 26.81 L631.60 26.74 L632.60 26.66 L633.60 26.58 L634.60 26.50 L635.60 26.42 L636.60 26.34 L637.60 26.26 L638.60 26.18 L639.60 26.10 L640.60 26.02 L641.60 25.94 L642.60 25.86 L643.60 25.79 L644.60 25.71 L645.60 25.63 L646.60 25.55 L647.60 25.46 L648.60 25.40 L649.60 25.33 L650.60 25.26 L651.60 25.19 L652.60 25.13 L653.60 25.06 L654.60 25.00 L655.60 24.94 L656.60 24.87 L657.60 24.81 L658.60 24.75 L659.60 24.69 L660.60 24.64 L661.60 24.58 L662.60 24.52 L663.60 24.47 L664.60 24.41 L665.60 24.36 L666.60 24.31 L667.60 24.26 L668.60 24.21 L669.60 24.16 L670.60 24.11 L671.60 24.06 L672.60 24.02 L673.60 23.97 L674.60 23.93 L675.60 23.89 L676.60 23.84 L677.50 23.81" stroke="#00ff00"/>
</g>
<g stroke="#000" stroke-width="1" fill="none">
<line x1="61.0" y1="5.5" x2="61.0" y2="387.5"/>
<line x1="60.5" y1="6.0" x2="677.5" y2="6.0"/>
<line x1="60.5" y1="387.0" x2="677.5" y2="387.0"/>
<line x1="677.5" y1="5.5" x2="677.5" y2="387.5" stroke="#3c3c3c"/>
<line x1="61.0" y1="378.36" x2="66.3" y2="378.36"/>
<line x1="677.5" y1="378.36" x2="672.2" y2="378.36"/>
<line x1="61.0" y1="369.90" x2="66.3" y2="369.90"/>
<line x1="677.5" y1="369.90" x2="672.2" y2="369.90"/>
<line x1="61.0" y1="361.43" x2="66.3" y2="361.43"/>
<line x1="677.5" y1="361.43" x2="672.2" y2="361.43"/>
<line x1="61.0" y1="352.96" x2="66.3" y2="352.96"/>
<line x1="677.5" y1="352.96" x2="672.2" y2="352.96"/>
<line x1="61.0" y1="344.50" x2="71.0" y2="344.50"/>
<line x1="677.5" y1="344.50" x2="667.5" y2="344.50"/>
<line x1="61.0" y1="336.03" x2="66.3" y2="336.03"/>
<line x1="677.5" y1="336.03" x2="672.2" y2="336.03"/>
<line x1="61.0" y1="327.56" x2="66.3" y2="327.56"/>
<line x1="677.5" y1="327.56" x2="672.2" y2="327.56"/>
<line x1="61.0" y1="319.10" x2="66.3" y2="319.10"/>
<line x1="677.5" y1="319.10" x2="672.2" y2="319.10"/>
<line x1="61.0" y1="310.63" x2="66.3" y2="310.63"/>
<line x1="677.5" y1="310.63" x2="672.2" y2="310.63"/>
<line x1="61.0" y1="302.16" x2="71.0" y2="302.16"/>
<line x1="677.5" y1="302.16" x2="667.5" y2="302.16"/>
<line x1="61.0" y1="293.70" x2="66.3" y2="293.70"/>
<line x1="677.5" y1="293.70" x2="672.2" y2="293.70"/>
<line x1="61.0" y1="285.23" x2="66.3" y2="285.23"/>
<line x1="677.5" y1="285.23" x2="672.2" y2="285.23"/>
<line x1="61.0" y1="276.77" x2="66.3" y2="276.77"/>
<line x1="677.5" y1="276.77" x2="672.2" y2="276.77"/>
<line x1="61.0" y1="268.30" x2="66.3" y2="268.30"/>
<line x1="677.5" y1="268.30" x2="672.2" y2="268.30"/>
<line x1="61.0" y1="259.83" x2="71.0" y2="259.83"/>
<line x1="677.5" y1="259.83" x2="667.5" y2="259.83"/>
<line x1="61.0" y1="251.37" x2="66.3" y2="251.37"/>
<line x1="677.5" y1="251.37" x2="672.2" y2="251.37"/>
<line x1="61.0" y1="242.90" x2="66.3" y2="242.90"/>
<line x1="677.5" y1="242.90" x2="672.2" y2="242.90"/>
<line x1="61.0" y1="234.43" x2="66.3" y2="234.43"/>
<line x1="677.5" y1="234.43" x2="672.2" y2="234.43"/>
<line x1="61.0" y1="225.97" x2="66.3" y2="225.97"/>
<line x1="677.5" y1="225.97" x2="672.2" y2="225.97"/>
<line x1="61.0" y1="217.50" x2="71.0" y2="217.50"/>
<line x1="677.5" y1="217.50" x2="667.5" y2="217.50"/>
<line x1="61.0" y1="209.03" x2="66.3" y2="209.03"/>
<line x1="677.5" y1="209.03" x2="672.2" y2="209.03"/>
<line x1="61.0" y1="200.57" x2="66.3" y2="200.57"/>
<line x1="677.5" y1="200.57" x2="672.2" y2="200.57"/>
<line x1="61.0" y1="192.10" x2="66.3" y2="192.10"/>
<line x1="677.5" y1="192.10" x2="672.2" y2="192.10"/>
<line x1="61.0" y1="183.63" x2="66.3" y2="183.63"/>
<line x1="677.5" y1="183.63" x2="672.2" y2="183.63"/>
<line x1="61.0" y1="175.17" x2="71.0" y2="175.17"/>
<line x1="677.5" y1="175.17" x2="667.5" y2="175.17"/>
<line x1="61.0" y1="166.70" x2="66.3" y2="166.70"/>
<line x1="677.5" y1="166.70" x2="672.2" y2="166.70"/>
<line x1="61.0" y1="158.23" x2="66.3" y2="158.23"/>
<line x1="677.5" y1="158.23" x2="672.2" y2="158.23"/>
<line x1="61.0" y1="149.77" x2="66.3" y2="149.77"/>
<line x1="677.5" y1="149.77" x2="672.2" y2="149.77"/>
<line x1="61.0" y1="141.30" x2="66.3" y2="141.30"/>
<line x1="677.5" y1="141.30" x2="672.2" y2="141.30"/>
<line x1="61.0" y1="132.83" x2="71.0" y2="132.83"/>
<line x1="677.5" y1="132.83" x2="667.5" y2="132.83"/>
<line x1="61.0" y1="124.37" x2="66.3" y2="124.37"/>
<line x1="677.5" y1="124.37" x2="672.2" y2="124.37"/>
<line x1="61.0" y1="115.90" x2="66.3" y2="115.90"/>
<line x1="677.5" y1="115.90" x2="672.2" y2="115.90"/>
<line x1="61.0" y1="107.43" x2="66.3" y2="107.43"/>
<line x1="677.5" y1="107.43" x2="672.2" y2="107.43"/>
<line x1="61.0" y1="98.97" x2="66.3" y2="98.97"/>
<line x1="677.5" y1="98.97" x2="672.2" y2="98.97"/>
<line x1="61.0" y1="90.50" x2="71.0" y2="90.50"/>
<line x1="677.5" y1="90.50" x2="667.5" y2="90.50"/>
<line x1="61.0" y1="82.03" x2="66.3" y2="82.03"/>
<line x1="677.5" y1="82.03" x2="672.2" y2="82.03"/>
<line x1="61.0" y1="73.57" x2="66.3" y2="73.57"/>
<line x1="677.5" y1="73.57" x2="672.2" y2="73.57"/>
<line x1="61.0" y1="65.10" x2="66.3" y2="65.10"/>
<line x1="677.5" y1="65.10" x2="672.2" y2="65.10"/>
<line x1="61.0" y1="56.63" x2="66.3" y2="56.63"/>
<line x1="677.5" y1="56.63" x2="672.2" y2="56.63"/>
<line x1="61.0" y1="48.17" x2="71.0" y2="48.17"/>
<line x1="677.5" y1="48.17" x2="667.5" y2="48.17"/>
<line x1="61.0" y1="39.70" x2="66.3" y2="39.70"/>
<line x1="677.5" y1="39.70" x2="672.2" y2="39.70"/>
<line x1="61.0" y1="31.23" x2="66.3" y2="31.23"/>
<line x1="677.5" y1="31.23" x2="672.2" y2="31.23"/>
<line x1="61.0" y1="22.77" x2="66.3" y2="22.77"/>
<line x1="677.5" y1="22.77" x2="672.2" y2="22.77"/>
<line x1="61.0" y1="14.30" x2="66.3" y2="14.30"/>
<line x1="677.5" y1="14.30" x2="672.2" y2="14.30"/>
<line x1="80.60" y1="387.0" x2="80.60" y2="377.0"/>
<line x1="80.60" y1="6.0" x2="80.60" y2="16.0"/>
<line x1="120.40" y1="387.0" x2="120.40" y2="381.6"/>
<line x1="120.40" y1="6.0" x2="120.40" y2="11.4"/>
<line x1="160.20" y1="387.0" x2="160.20" y2="381.6"/>
<line x1="160.20" y1="6.0" x2="160.20" y2="11.4"/>
<line x1="200.00" y1="387.0" x2="200.00" y2="381.6"/>
<line x1="200.00" y1="6.0" x2="200.00" y2="11.4"/>
<line x1="239.80" y1="387.0" x2="239.80" y2="381.6"/>
<line x1="239.80" y1="6.0" x2="239.80" y2="11.4"/>
<line x1="279.60" y1="387.0" x2="279.60" y2="377.0"/>
<line x1="279.60" y1="6.0" x2="279.60" y2="16.0"/>
<line x1="319.40" y1="387.0" x2="319.40" y2="381.6"/>
<line x1="319.40" y1="6.0" x2="319.40" y2="11.4"/>
<line x1="359.20" y1="387.0" x2="359.20" y2="381.6"/>
<line x1="359.20" y1="6.0" x2="359.20" y2="11.4"/>
<line x1="399.00" y1="387.0" x2="399.00" y2="381.6"/>
<line x1="399.00" y1="6.0" x2="399.00" y2="11.4"/>
<line x1="438.80" y1="387.0" x2="438.80" y2="381.6"/>
<line x1="438.80" y1="6.0" x2="438.80" y2="11.4"/>
<line x1="478.60" y1="387.0" x2="478.60" y2="377.0"/>
<line x1="478.60" y1="6.0" x2="478.60" y2="16.0"/>
<line x1="518.40" y1="387.0" x2="518.40" y2="381.6"/>
<line x1="518.40" y1="6.0" x2="518.40" y2="11.4"/>
<line x1="558.20" y1="387.0" x2="558.20" y2="381.6"/>
<line x1="558.20" y1="6.0" x2="558.20" y2="11.4"/>
<line x1="598.00" y1="387.0" x2="598.00" y2="381.6"/>
<line x1="598.00" y1="6.0" x2="598.00" y2="11.4"/>
<line x1="637.80" y1="387.0" x2="637.80" y2="381.6"/>
<line x1="637.80" y1="6.0" x2="637.80" y2="11.4"/>
</g>
<g class="s" font-size="15.5" fill="#000">
<rect x="31.1" y="387.68" width="8.1" height="1.25"/>
<text x="48.6" y="392.08" text-anchor="end">7</text>
<rect x="31.1" y="345.35" width="8.1" height="1.25"/>
<text x="48.6" y="349.75" text-anchor="end">6</text>
<rect x="31.1" y="303.01" width="8.1" height="1.25"/>
<text x="48.6" y="307.41" text-anchor="end">5</text>
<rect x="31.1" y="260.68" width="8.1" height="1.25"/>
<text x="48.6" y="265.08" text-anchor="end">4</text>
<rect x="31.1" y="218.35" width="8.1" height="1.25"/>
<text x="48.6" y="222.75" text-anchor="end">3</text>
<rect x="31.1" y="176.02" width="8.1" height="1.25"/>
<text x="48.6" y="180.42" text-anchor="end">2</text>
<rect x="31.1" y="133.68" width="8.1" height="1.25"/>
<path transform="translate(40.05 138.08)" d="M4.45 0 L5.85 0 L5.85 -10.5 L4.9 -10.5 C4.4 -9.5 3.2 -8.4 1.6 -7.6 L1.6 -6.2 C2.8 -6.7 3.8 -7.4 4.45 -8.0 Z"/>
<text x="48.6" y="95.75" text-anchor="end">0</text>
<path transform="translate(40.05 53.42)" d="M4.45 0 L5.85 0 L5.85 -10.5 L4.9 -10.5 C4.4 -9.5 3.2 -8.4 1.6 -7.6 L1.6 -6.2 C2.8 -6.7 3.8 -7.4 4.45 -8.0 Z"/>
<text x="48.6" y="11.08" text-anchor="end">2</text>
<path transform="translate(80.35 411.4)" d="M4.45 0 L5.85 0 L5.85 -10.5 L4.9 -10.5 C4.4 -9.5 3.2 -8.4 1.6 -7.6 L1.6 -6.2 C2.8 -6.7 3.8 -7.4 4.45 -8.0 Z"/>
<text x="283.50" y="411.6" text-anchor="middle">2</text>
<text x="482.50" y="411.6" text-anchor="middle">3</text>
<text x="681.50" y="411.6" text-anchor="middle">4</text>
</g>
<text class="s" x="350.5" y="430.8" font-size="15.4">T / T<tspan font-size="11" dy="3.2">c</tspan></text>
<g transform="translate(481.00 32.20)" fill="none" stroke="#000"><ellipse cx="0" cy="0" rx="3.0" ry="2.85" stroke-width="1.15" transform="translate(3.8 -3.6) skewX(-9)"/><path d="M3.9 -6.2 L9.9 -6.05" stroke-width="1.05"/></g>
<text class="s" x="490.90" y="31.80" font-size="15.0">(T)</text>
<text class="g" transform="translate(423.00 61.60) scale(0.950 1)" font-size="15.5">&#961;</text>
<text class="s" x="429.00" y="63.90" font-size="10.8">2</text>
<text class="s" x="436.40" y="61.60" font-size="15.0">(T)</text>
<text class="g" transform="translate(482.00 74.80) scale(0.950 1)" font-size="15.5">&#961;</text>
<text class="s" x="489.40" y="77.00" font-size="10.8">4</text>
<text class="s" x="495.60" y="74.70" font-size="15.0">(T)</text>
<text class="g" transform="translate(482.20 264.50) scale(0.950 1)" font-size="15.5">&#961;</text>
<text class="s" x="489.00" y="267.60" font-size="10.8">3</text>
<text class="s" x="495.70" y="264.50" font-size="15.0">(T)</text>
<g transform="translate(10.7 231.4) rotate(-90)"><text class="g" transform="translate(0.30 0.00) scale(0.950 1)" font-size="15.5">&#961;</text><text class="s" x="8.30" y="2.20" font-size="10.8">k</text><text class="s" x="13.90" y="0.00" font-size="15.0">(T)</text><text class="s" x="32.00" y="0.00" font-size="15.0">,</text><g transform="translate(41.70 0.00)" fill="none" stroke="#000"><ellipse cx="0" cy="0" rx="3.0" ry="2.85" stroke-width="1.15" transform="translate(3.8 -3.6) skewX(-9)"/><path d="M3.9 -6.2 L9.9 -6.05" stroke-width="1.05"/></g><text class="s" x="51.40" y="0.00" font-size="15.0">(T)</text></g>
<text class="s" x="83.5" y="222.5" font-size="14.85" textLength="277.6" lengthAdjust="spacing">Scale factors of the EoS of carbon dioxide</text>
<text class="s" x="83.5" y="243" font-size="14.85" textLength="179.1" lengthAdjust="spacing">at supercritical temperature</text>
</svg></body></html>
